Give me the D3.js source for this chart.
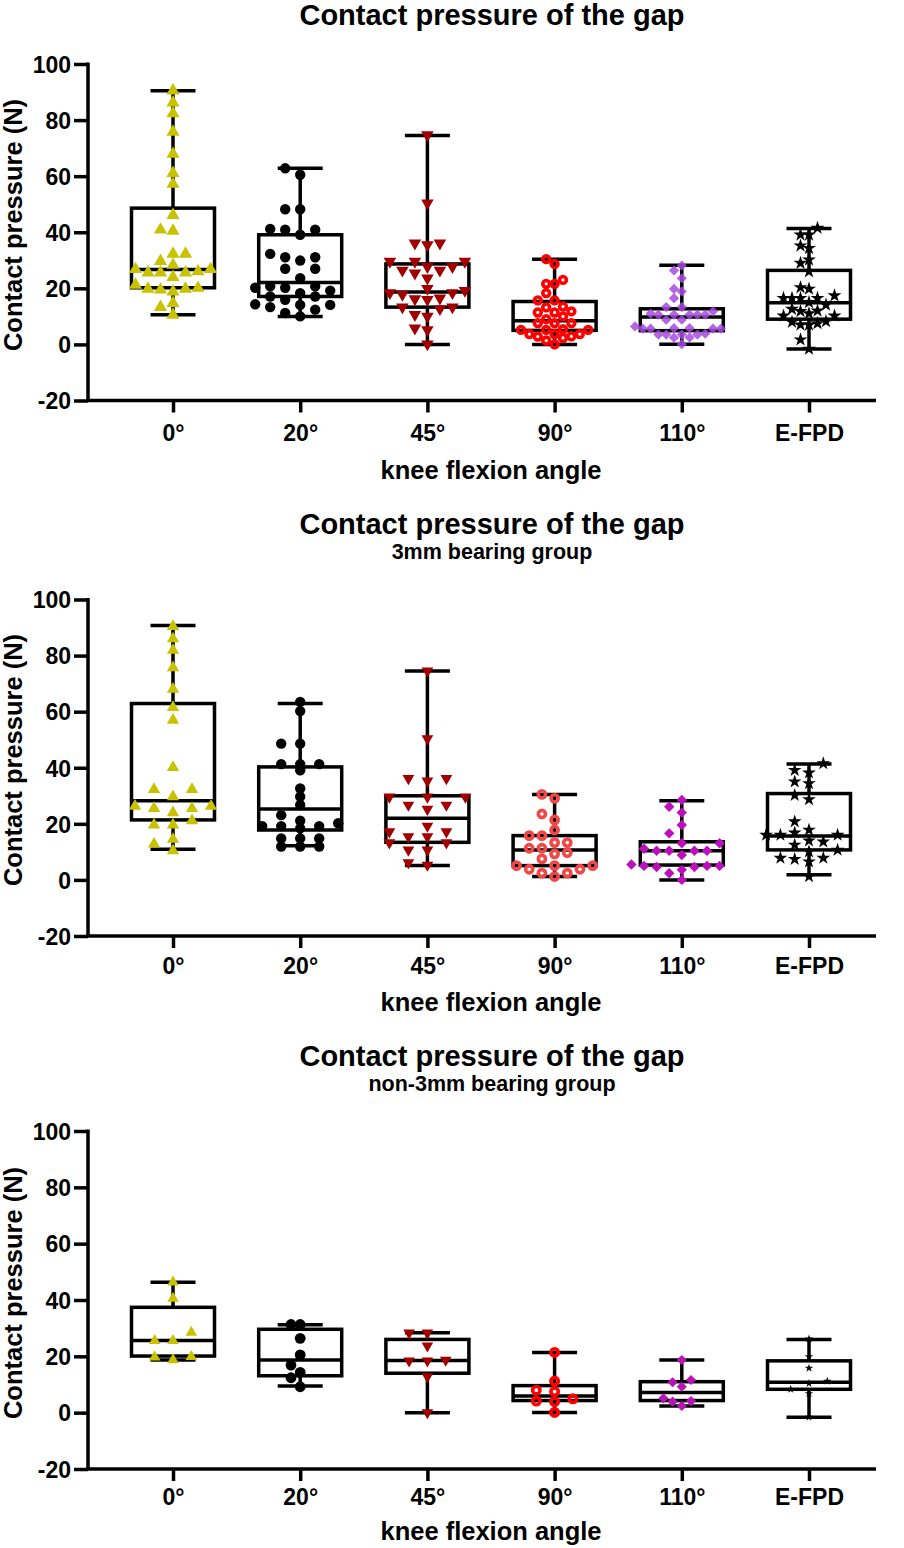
<!DOCTYPE html>
<html><head><meta charset="utf-8">
<script src="https://cdn.jsdelivr.net/npm/d3@7"></script>
<style>
html,body{margin:0;padding:0;background:#fff;}
svg text{font-family:"Liberation Sans",Arial,Helvetica,sans-serif;font-weight:bold;fill:#000;}
</style></head>
<body>
<script>
// ---------------- DATA ----------------
const categories = ["0°", "20°", "45°", "90°", "110°", "E-FPD"];
const yTickValues = [-20, 0, 20, 40, 60, 80, 100];
const panelTitles = ["Contact pressure of the gap", "Contact pressure of the gap", "Contact pressure of the gap"];
const panelSubtitles = ["", "3mm bearing group", "non-3mm bearing group"];
const xAxisTitle = "knee flexion angle";
const yAxisTitle = "Contact pressure (N)";

// box stats per category: [min, q1, median, q3, max]
const boxAll = [
  [10.6, 20.2, 26.7, 48.6, 90.5],
  [10.0, 17.1, 22.1, 39.1, 62.8],
  [0.0, 13.3, 18.7, 28.7, 74.5],
  [0.0, 5.0, 8.4, 15.3, 30.4],
  [0.1, 4.9, 9.8, 12.7, 28.2],
  [-1.6, 9.0, 14.9, 26.4, 41.3]
];
const box3mm = [
  [10.9, 21.4, 28.2, 62.9, 90.7],
  [12.2, 17.8, 25.3, 40.3, 62.9],
  [5.1, 13.4, 22.0, 30.0, 74.5],
  [1.2, 5.1, 10.7, 15.8, 30.5],
  [0.0, 5.3, 10.4, 13.6, 28.2],
  [1.8, 10.7, 15.7, 30.8, 41.3]
];
const boxNon3mm = [
  [18.7, 20.1, 25.6, 37.4, 46.3],
  [9.5, 13.1, 18.7, 29.6, 31.2],
  [0.0, 14.0, 18.5, 26.0, 28.4],
  [0.1, 4.3, 5.9, 9.6, 21.4],
  [2.4, 4.3, 7.2, 11.0, 18.7],
  [-1.6, 8.3, 10.8, 18.4, 26.0]
];

// individual measurements per category
const pointsAll = [
  [90.5, 86.2, 82.4, 75.8, 67.9, 61.1, 57.2, 46.1, 40.9, 40.5, 32.3, 32.3, 28.3, 29.7, 26.8, 25.6, 26.8, 25.6, 25.6, 26.0, 24.0, 21.2, 19.5, 19.8, 19.8, 20.1, 18.8, 14.7, 13.3, 10.5],
  [62.8, 60.5, 48.2, 48.2, 40.9, 40.9, 41.2, 39.1, 32.3, 31.1, 31.1, 29.9, 27.0, 27.0, 23.6, 20.2, 20.7, 18.3, 19.2, 20.7, 20.2, 17.1, 15.9, 17.1, 13.3, 14.1, 14.1, 12.4, 14.3, 11.2, 10.0],
  [74.7, 50.4, 36.1, 35.5, 36.1, 29.6, 29.6, 29.6, 26.4, 27.7, 27.7, 26.4, 23.6, 25.4, 18.4, 18.4, 19.9, 19.2, 17.8, 16.2, 16.5, 16.0, 13.3, 13.3, 12.7, 10.0, 10.6, 5.8, 5.2, 0.1],
  [30.4, 28.7, 21.6, 21.6, 23.0, 18.3, 15.7, 15.7, 13.5, 13.2, 11.8, 11.4, 11.4, 10.0, 9.0, 7.6, 7.6, 7.6, 5.2, 5.2, 5.2, 5.4, 3.7, 3.7, 2.9, 3.7, 2.8, 1.4, 2.3, 0.0],
  [28.1, 26.4, 23.6, 18.9, 19.8, 16.5, 13.3, 13.3, 11.0, 10.6, 11.8, 10.6, 10.6, 10.6, 10.6, 8.8, 8.8, 5.6, 5.8, 5.6, 6.4, 5.6, 5.8, 5.6, 3.5, 3.5, 3.8, 3.5, 3.5, 2.5, 2.4, 0.1],
  [41.5, 39.1, 39.1, 34.3, 35.2, 30.2, 29.0, 26.0, 19.8, 20.3, 17.4, 16.5, 16.5, 16.5, 16.5, 15.0, 14.1, 12.6, 12.0, 10.2, 11.8, 10.2, 11.0, 8.0, 7.0, 7.0, 7.5, 8.2, 1.7, -1.6]
];
const points3mm = [
  [90.4, 86.0, 81.9, 75.7, 68.0, 61.5, 57.0, 40.1, 32.3, 32.3, 29.7, 25.5, 25.5, 26.3, 26.3, 24.0, 19.6, 21.1, 19.6, 14.5, 12.8, 10.4],
  [63.5, 60.2, 48.6, 48.6, 41.3, 39.1, 41.3, 41.3, 32.6, 29.7, 26.7, 23.1, 21.1, 20.2, 19.2, 19.2, 19.2, 18.4, 14.8, 14.8, 14.8, 11.9, 11.9, 11.9],
  [74.5, 50.4, 36.2, 36.2, 35.3, 29.6, 29.6, 29.6, 26.7, 25.2, 26.7, 19.2, 17.2, 17.2, 15.4, 15.4, 13.3, 13.3, 10.7, 10.7, 5.3, 6.2],
  [30.5, 29.1, 23.5, 21.4, 17.8, 15.8, 15.8, 13.3, 13.3, 11.3, 11.3, 9.7, 9.3, 7.5, 5.1, 5.1, 5.1, 2.4, 3.8, 2.4, 3.8, 1.2],
  [28.5, 26.1, 24.0, 19.6, 16.6, 13.1, 13.1, 10.4, 10.4, 11.1, 10.4, 10.4, 8.9, 5.0, 3.6, 5.0, 4.6, 5.5, 4.6, 5.0, 2.4, 0.0],
  [41.5, 39.1, 38.2, 34.4, 35.0, 30.2, 28.7, 20.8, 16.0, 16.0, 16.8, 17.8, 16.0, 13.6, 12.5, 14.0, 10.1, 10.7, 7.4, 6.5, 7.8, 7.8, 1.2]
];
const pointsNon3mm = [
  [46.3, 40.6, 28.5, 25.6, 25.6, 19.9, 19.7, 18.7],
  [31.3, 31.3, 26.4, 20.5, 16.9, 14.3, 12.4, 9.2],
  [28.3, 28.3, 23.7, 18.4, 18.7, 18.4, 12.8, 0.0],
  [21.4, 11.2, 8.0, 7.5, 4.9, 3.9, 4.1, 0.1],
  [18.7, 11.6, 10.8, 9.2, 5.1, 3.9, 4.1, 2.4],
  [26.2, 19.9, 15.8, 10.4, 11.2, 8.3, 6.8, -1.6]
];

// ---------------- STYLE / LAYOUT ----------------
const W = 904, H = 1548;
const panels = [
  {box: boxAll, pts: pointsAll, top: 64, bottom: 400.5, titleY: 25, subY: null, xLabY: 441, xTitleY: 479, yTitleCY: 225,
   spacing: [12.5, 15, 12.5, 8.4, 7.8, 8.5], dmin: [10, 10, 10, 8.5, 9, 10], sizes: [75, 5.2, 68, 5.3, 52, 60],
   colors: ["#c9c200", "#000", "#a00000", "#ff0000", "#a64be0", "#000"], opac: [1, 1, 1, 1, 0.85, 1]},
  {box: box3mm, pts: points3mm, top: 599.5, bottom: 936, titleY: 534, subY: 559, xLabY: 974, xTitleY: 1011, yTitleCY: 760,
   spacing: [19, 19, 19, 12.7, 12.6, 14.3], dmin: [10, 6, 10, 10, 10, 10], sizes: [66, 5.2, 60, 5.5, 54, 58],
   colors: ["#c9c200", "#000", "#a00000", "#f04848", "#bb10bb", "#000"], opac: [1, 1, 1, 1, 1, 1]},
  {box: boxNon3mm, pts: pointsNon3mm, top: 1131, bottom: 1469, titleY: 1066, subY: 1091, xLabY: 1505, xTitleY: 1540, yTitleCY: 1293,
   spacing: [18.3, 9.2, 18.3, 18.3, 9.2, 18.3], dmin: [10, 9.2, 10, 10, 9.2, 10], sizes: [58, 5.4, 58, 5.6, 52, 22],
   colors: ["#c9c200", "#000", "#a00000", "#ff0000", "#b515b5", "#000"], opac: [1, 1, 1, 1, 1, 1]}
];
const shapes = ["triUp", "circle", "triDown", "ring", "diamond", "star"];
const axisX0 = 88, axisX1 = 876;
const boxHalf = 41.5, capHalf = 22.5, LW = 3.5;

const svg = d3.select("body").append("svg").attr("width", W).attr("height", H);

const x = d3.scalePoint().domain(categories).range([173, 809]);

function swarm(values, y, spacing, dmin) {
  const items = values.map(v => ({v, py: y(v)})).sort((a, b) => a.v - b.v);
  const placed = [];
  items.forEach(p => {
    for (let k = 0; k < 60; k++) {
      const slot = k === 0 ? 0 : (k % 2 ? -Math.ceil(k / 2) : Math.ceil(k / 2));
      if (!placed.some(q => q.slot === slot && Math.abs(q.py - p.py) < dmin)) { p.slot = slot; break; }
    }
    placed.push(p);
  });
  placed.forEach(p => p.dx = p.slot * spacing);
  return placed;
}

panels.forEach((P, pi) => {
  const y = d3.scaleLinear().domain([-20, 100]).range([P.bottom, P.top]);
  const g = svg.append("g");

  // titles
  g.append("text").attr("x", 492).attr("y", P.titleY).attr("text-anchor", "middle")
    .style("font-size", "29px").text(panelTitles[pi]);
  if (P.subY) g.append("text").attr("x", 492).attr("y", P.subY).attr("text-anchor", "middle")
    .style("font-size", "21.5px").text(panelSubtitles[pi]);

  // y axis
  const ya = g.append("g").attr("transform", `translate(${axisX0},0)`)
    .call(d3.axisLeft(y).tickValues(yTickValues).tickFormat(d => String(d))
      .tickSize(14).tickSizeOuter(0).tickPadding(3));
  ya.select(".domain").remove();
  ya.selectAll(".tick line").attr("stroke", "#000").attr("stroke-width", LW);
  ya.selectAll(".tick text").style("font-size", "23px").attr("font-family", null).attr("dy", "0.36em");
  g.append("line").attr("x1", axisX0).attr("x2", axisX0).attr("y1", y(100) - 1.5).attr("y2", y(-20))
    .attr("stroke", "#000").attr("stroke-width", LW);

  // x axis
  const xa = g.append("g").attr("transform", `translate(0,${y(-20)})`)
    .call(d3.axisBottom(x).tickSize(12).tickSizeOuter(0).tickPadding(0));
  xa.select(".domain").remove();
  xa.selectAll(".tick line").attr("stroke", "#000").attr("stroke-width", LW);
  xa.selectAll(".tick text").style("font-size", "23px").attr("font-family", null)
    .attr("y", P.xLabY - y(-20)).attr("dy", 0);
  g.append("line").attr("x1", axisX0 - 1.75).attr("x2", axisX1).attr("y1", y(-20)).attr("y2", y(-20))
    .attr("stroke", "#000").attr("stroke-width", LW);

  // axis titles
  g.append("text").attr("x", 491).attr("y", P.xTitleY).attr("text-anchor", "middle")
    .style("font-size", "25.5px").text(xAxisTitle);
  g.append("text").attr("transform", `translate(22,${P.yTitleCY}) rotate(-90)`).attr("text-anchor", "middle")
    .style("font-size", "25.5px").text(yAxisTitle);

  // boxes
  categories.forEach((c, ci) => {
    const [mn, q1, md, q3, mx] = P.box[ci];
    const cx = x(c);
    const bg = g.append("g").attr("stroke", "#000").attr("stroke-width", LW).attr("fill", "none");
    bg.append("rect").attr("x", cx - boxHalf).attr("y", y(q3)).attr("width", 2 * boxHalf).attr("height", y(q1) - y(q3));
    bg.append("line").attr("x1", cx - boxHalf - 1).attr("x2", cx + boxHalf + 1).attr("y1", y(md)).attr("y2", y(md));
    bg.append("line").attr("x1", cx).attr("x2", cx).attr("y1", y(q3)).attr("y2", y(mx));
    bg.append("line").attr("x1", cx).attr("x2", cx).attr("y1", y(q1)).attr("y2", y(mn));
    bg.append("line").attr("x1", cx - capHalf).attr("x2", cx + capHalf).attr("y1", y(mx)).attr("y2", y(mx));
    bg.append("line").attr("x1", cx - capHalf).attr("x2", cx + capHalf).attr("y1", y(mn)).attr("y2", y(mn));
  });

  // points
  categories.forEach((c, ci) => {
    const sp = P.spacing[ci];
    const pts = swarm(P.pts[ci], y, sp, P.dmin[ci]);
    const col = P.colors[ci], sz = P.sizes[ci], shape = shapes[ci];
    const pg = g.append("g").attr("opacity", P.opac[ci]);
    pts.forEach(p => {
      const px = x(c) + p.dx, py = p.py;
      if (shape === "circle") {
        pg.append("circle").attr("cx", px).attr("cy", py).attr("r", sz).attr("fill", col);
      } else if (shape === "ring") {
        pg.append("circle").attr("cx", px).attr("cy", py).attr("r", sz - 1.9).attr("fill", "none")
          .attr("stroke", col).attr("stroke-width", 3.6);
      } else if (shape === "triUp") {
        pg.append("path").attr("d", d3.symbol(d3.symbolTriangle, sz)()).attr("fill", col)
          .attr("transform", `translate(${px},${py})`);
      } else if (shape === "triDown") {
        pg.append("path").attr("d", d3.symbol(d3.symbolTriangle, sz)()).attr("fill", col)
          .attr("transform", `translate(${px},${py}) rotate(180)`);
      } else if (shape === "diamond") {
        pg.append("path").attr("d", d3.symbol(d3.symbolSquare, sz)()).attr("fill", col)
          .attr("transform", `translate(${px},${py}) rotate(45)`);
      } else if (shape === "star") {
        pg.append("path").attr("d", d3.symbol(d3.symbolStar, sz)()).attr("fill", col)
          .attr("transform", `translate(${px},${py})`);
      }
    });
  });
});
</script>
</body></html>
